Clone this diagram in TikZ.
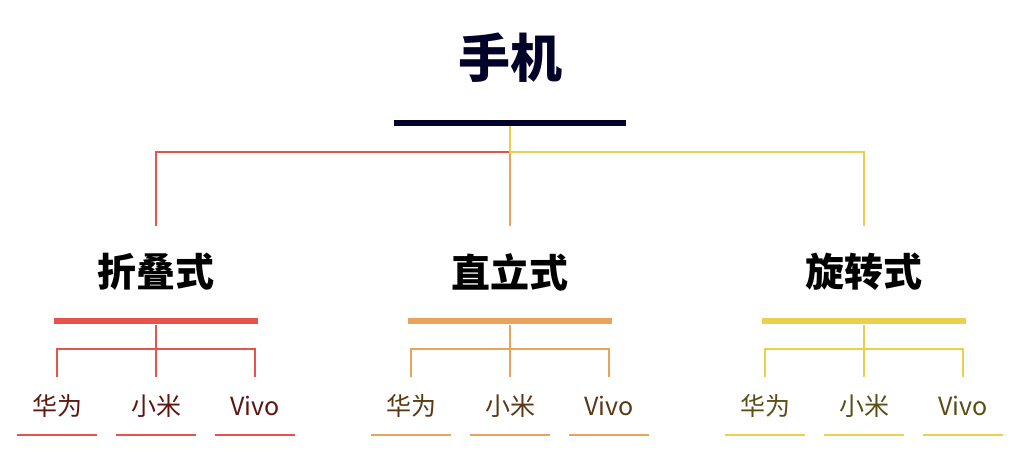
\documentclass[tikz,border=0pt]{standalone}
\usepackage{fontspec}
\setmainfont{Noto Sans CJK SC}
\usetikzlibrary{positioning}
\definecolor{navy}{HTML}{03032A}
\definecolor{rline}{HTML}{E5534A}
\definecolor{oline}{HTML}{E8A35C}
\definecolor{yline}{HTML}{EBD04C}
\definecolor{rtext}{HTML}{5E1710}
\definecolor{otext}{HTML}{5A3814}
\definecolor{ytext}{HTML}{5A4E16}
\tikzset{
  heading/.style={font=\fontsize{39}{44}\bfseries\selectfont, minimum height=92pt, inner sep=0pt},
  bar/.style={fill=#1, minimum width=204pt, minimum height=6pt, inner sep=0pt},
  item/.style={font=\fontsize{25}{29}\selectfont, minimum width=80pt, minimum height=58pt, inner sep=0pt},
  link/.style={draw=#1, line width=2pt},
}
\begin{document}
\begin{tikzpicture}[x=1pt, y=-1pt]
    \useasboundingbox (0,0) rectangle (1024,474);
    % top level
    \node[font=\fontsize{52}{58}\bfseries\selectfont, text=navy] (root) at (510,58) {手机};
    \node[bar=navy, minimum width=232pt] (rootbar) at (510,123) {};
    \coordinate (top) at (510,152);
    % second level
    \node[heading] (h1) at (156,272) {折叠式};
    \node[heading] (h2) at (510,272) {直立式};
    \node[heading] (h3) at (864,272) {旋转式};
    \node[bar=rline, below=0pt of h1] (b1) {};
    \node[bar=oline, below=0pt of h2] (b2) {};
    \node[bar=yline, below=0pt of h3] (b3) {};
    \path[link=rline] (rootbar.south) -- (top) -| (h1.north);
    \path[link=oline] (rootbar.south) -- (h2.north);
    \path[link=yline] (rootbar.south) -- (top) -| (h3.north);
    % third level
    \node[item, text=rtext] (r1) at (57,406) {华为};
    \node[item, text=rtext] (r2) at (156,406) {小米};
    \node[item, text=rtext] (r3) at (255,406) {Vivo};
    \node[item, text=otext] (o1) at (411,406) {华为};
    \node[item, text=otext] (o2) at (510,406) {小米};
    \node[item, text=otext] (o3) at (609,406) {Vivo};
    \node[item, text=ytext] (y1) at (765,406) {华为};
    \node[item, text=ytext] (y2) at (864,406) {小米};
    \node[item, text=ytext] (y3) at (963,406) {Vivo};
    \coordinate (j1) at (156,349);
    \coordinate (j2) at (510,349);
    \coordinate (j3) at (864,349);
    \path[link=rline] (b1.south) -- (r2.north);
    \path[link=rline] (r1.north) |- (j1) -| (r3.north);
    \path[link=oline] (b2.south) -- (o2.north);
    \path[link=oline] (o1.north) |- (j2) -| (o3.north);
    \path[link=yline] (b3.south) -- (y2.north);
    \path[link=yline] (y1.north) |- (j3) -| (y3.north);
    % underlines
    \path[link=rline] (r1.south west) -- (r1.south east);
    \path[link=rline] (r2.south west) -- (r2.south east);
    \path[link=rline] (r3.south west) -- (r3.south east);
    \path[link=oline] (o1.south west) -- (o1.south east);
    \path[link=oline] (o2.south west) -- (o2.south east);
    \path[link=oline] (o3.south west) -- (o3.south east);
    \path[link=yline] (y1.south west) -- (y1.south east);
    \path[link=yline] (y2.south west) -- (y2.south east);
    \path[link=yline] (y3.south west) -- (y3.south east);
\end{tikzpicture}
\end{document}
